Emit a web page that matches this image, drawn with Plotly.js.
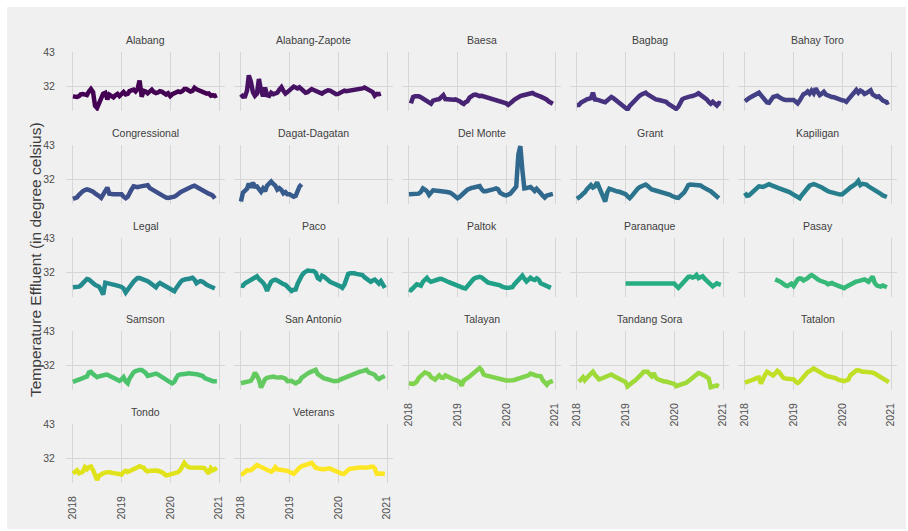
<!DOCTYPE html>
<html>
<head>
<meta charset="utf-8">
<script src="https://cdn.plot.ly/plotly-3.0.1.min.js"></script>
<style>html,body{margin:0;padding:0;background:#fff;}#chart{width:908px;height:531px;}</style>
</head>
<body>
<div id="chart"></div>
<script>
const dates = [
'2018-01-01','2018-01-16','2018-02-01','2018-02-16','2018-03-01','2018-03-16','2018-04-01','2018-04-16','2018-05-01','2018-05-16','2018-06-01','2018-06-16',
'2018-07-01','2018-07-16','2018-08-01','2018-08-16','2018-09-01','2018-09-16','2018-10-01','2018-10-16','2018-11-01','2018-11-16','2018-12-01','2018-12-16',
'2019-01-01','2019-01-16','2019-02-01','2019-02-16','2019-03-01','2019-03-16','2019-04-01','2019-04-16','2019-05-01','2019-05-16','2019-06-01','2019-06-16',
'2019-07-01','2019-07-16','2019-08-01','2019-08-16','2019-09-01','2019-09-16','2019-10-01','2019-10-16','2019-11-01','2019-11-16','2019-12-01','2019-12-16',
'2020-01-01','2020-01-16','2020-02-01','2020-02-16','2020-03-01','2020-03-16','2020-04-01','2020-04-16','2020-05-01','2020-05-16','2020-06-01','2020-06-16',
'2020-07-01','2020-07-16','2020-08-01','2020-08-16','2020-09-01','2020-09-16','2020-10-01','2020-10-16','2020-11-01','2020-11-16','2020-12-01','2020-12-16'];

const stations = ['Alabang','Alabang-Zapote','Baesa','Bagbag','Bahay Toro','Congressional','Dagat-Dagatan','Del Monte','Grant','Kapiligan','Legal','Paco','Paltok','Paranaque','Pasay','Samson','San Antonio','Talayan','Tandang Sora','Tatalon','Tondo','Veterans'];

const alabang = [28.6,28.5,28.4,28.7,29.3,29.4,29.1,29.0,30.2,31.0,30.0,25.5,24.8,26.5,27.5,29.5,29.8,27.6,29.2,28.8,28.3,29.0,29.4,28.7,29.2,30.0,29.2,29.4,30.3,30.6,30.8,30.2,31.0,33.8,28.5,30.4,30.2,29.6,30.2,30.8,30.0,29.7,29.9,30.3,30.1,29.4,29.2,29.6,28.7,29.3,29.7,29.8,30.2,30.0,30.3,31.0,31.0,30.6,30.2,30.4,31.4,30.9,30.6,30.2,30.0,29.8,29.5,29.6,28.8,29.0,28.7,29.0];
const alabangZapote = [29.3,28.5,28.6,30.5,35.5,33.5,30.0,28.8,29.5,34.3,30.5,28.6,31.5,29.0,28.8,29.8,29.3,29.6,29.8,30.8,31.6,30.4,29.5,30.0,30.6,31.3,31.8,31.5,31.2,31.6,30.8,30.3,29.8,30.0,30.4,31.0,30.7,30.4,29.9,29.7,29.5,30.0,30.4,30.6,30.5,30.0,29.8,29.3,29.4,29.8,30.2,30.5,30.3,30.4,30.6,30.7,30.6,30.8,30.7,30.9,31.2,31.5,31.0,30.6,30.2,30.0,28.8,29.4,29.3,29.5,null,null];
const baesa = [null,26.3,28.4,28.6,28.7,28.6,28.3,27.9,27.4,26.9,26.3,26.2,27.2,27.5,27.6,27.7,28.6,29.0,27.7,27.6,27.6,27.6,27.5,27.6,27.4,27.0,26.5,26.1,26.7,27.0,28.2,28.8,29.1,29.2,28.9,28.7,28.8,28.6,28.5,28.3,28.1,28.0,27.9,27.6,27.4,27.2,26.8,26.5,26.3,25.8,26.2,26.9,27.5,28.0,28.4,28.7,28.9,29.0,29.1,29.3,29.5,29.7,29.3,28.9,28.7,28.5,28.2,28.0,27.5,26.9,26.4,26.2];
const bagbag = [25.8,25.8,26.6,26.8,27.2,27.6,27.8,28.0,29.8,27.6,27.5,27.4,27.2,26.9,26.7,27.4,28.0,28.4,28.0,27.5,27.0,26.6,25.8,25.2,24.6,24.3,25.5,26.2,26.9,27.6,28.2,28.8,29.2,29.6,29.8,29.2,28.7,28.2,27.9,27.6,27.5,27.4,27.3,27.1,26.8,26.2,25.8,25.3,24.9,24.5,25.2,26.8,27.6,28.0,28.3,28.5,28.6,28.7,28.8,29.2,29.6,29.2,28.6,28.0,27.6,26.8,26.2,26.8,26.0,25.6,26.4,26.2];
const bahayToro = [27.0,27.3,28.0,28.4,28.7,28.9,29.4,29.8,29.0,28.2,27.2,26.6,26.5,27.4,28.4,28.6,28.8,28.3,27.7,27.6,27.4,27.4,27.5,27.3,27.4,26.9,26.3,27.2,28.4,29.3,29.6,30.2,29.5,30.5,29.6,31.2,30.0,29.0,29.5,30.1,29.2,28.8,28.6,28.4,28.3,28.0,27.8,27.5,27.3,27.2,26.8,27.6,28.4,29.0,29.8,30.7,29.8,30.5,30.1,29.4,29.7,30.2,30.6,29.2,28.8,28.4,28.6,27.8,27.2,27.0,26.5,26.8];
const congressional = [25.5,25.6,26.0,26.8,27.6,28.0,28.4,28.6,28.4,28.2,27.8,27.3,27.0,26.4,25.8,27.0,28.3,29.2,27.2,27.0,27.0,27.0,27.0,26.9,27.0,26.2,25.7,26.2,27.0,28.5,29.6,29.4,29.3,29.5,29.6,29.7,29.8,30.0,29.0,28.6,28.2,27.8,27.4,27.2,26.9,26.5,25.9,25.8,25.9,26.0,26.2,26.6,27.2,27.6,28.0,28.4,28.6,28.8,29.2,29.6,29.8,29.4,28.9,28.6,28.2,27.8,27.6,27.2,26.9,26.5,25.6,null];
const dagatDagatan = [24.6,27.5,28.2,28.8,30.5,29.2,30.8,29.5,29.6,28.4,27.8,28.9,28.0,29.8,30.8,31.2,30.4,29.8,28.5,29.0,28.4,27.3,27.7,27.0,27.0,26.6,26.2,26.5,28.0,29.5,30.3,null,null,null,null,null,null,null,null,null,null,null,null,null,null,null,null,null,null,null,null,null,null,null,null,null,null,null,null,null,null,null,null,null,null,null,null,null,null,null,null,null];
const delMonte = [27.0,27.0,27.0,27.0,27.0,27.2,27.8,28.9,28.5,28.0,26.8,27.4,28.3,28.2,28.2,28.1,28.0,27.9,27.8,27.8,27.6,27.3,26.9,26.3,25.7,26.1,26.6,27.2,27.9,28.5,28.9,29.1,29.2,29.4,29.6,29.7,28.6,28.0,28.0,28.1,28.3,28.5,28.7,28.9,28.6,27.5,27.0,26.8,26.6,26.9,27.2,28.0,28.6,29.5,40.0,42.8,35.0,28.9,29.0,29.3,29.4,28.8,28.1,28.8,28.2,27.3,26.5,25.9,26.6,26.8,27.0,27.1];
const grant = [25.5,25.8,26.5,27.2,27.6,28.6,29.2,30.0,29.2,29.6,30.9,29.5,28.0,26.2,24.6,27.5,28.8,28.6,28.3,28.1,27.9,27.8,27.6,27.3,27.0,26.3,25.7,26.4,27.3,28.0,28.8,29.3,29.6,30.0,30.2,29.7,29.1,28.6,28.4,28.2,28.1,28.0,27.9,27.7,27.4,27.1,26.8,26.4,26.0,25.9,25.8,26.3,27.0,27.6,28.8,30.0,30.2,30.2,30.1,30.2,30.0,29.9,29.4,28.9,28.6,28.3,28.0,27.4,27.0,26.4,25.7,null];
const kapiligan = [27.5,26.5,26.6,27.3,28.0,28.3,29.0,29.6,29.4,29.4,29.7,30.0,30.3,30.0,29.6,29.4,29.2,28.9,28.7,28.5,28.3,28.0,27.7,27.3,26.9,26.3,25.9,25.7,26.6,27.5,28.5,29.2,29.8,30.1,30.3,30.1,29.9,29.6,29.2,28.8,28.2,28.0,27.8,27.6,27.5,27.3,27.1,26.9,27.0,27.4,28.0,28.6,29.2,29.5,30.1,30.6,31.4,30.0,30.4,30.3,30.2,29.6,29.2,28.9,28.6,28.2,27.8,27.1,26.6,26.5,26.1,null];
const legal = [27.0,27.0,27.1,27.2,27.6,28.2,28.9,29.7,29.5,28.8,28.2,27.8,27.5,27.2,26.0,24.6,28.5,28.4,28.0,27.9,27.8,27.7,27.5,27.4,27.1,26.6,25.3,26.2,27.1,28.0,28.8,29.5,30.0,30.0,29.8,29.7,29.4,29.0,28.5,28.0,27.6,27.0,27.9,28.4,28.0,27.6,27.4,27.0,26.8,26.2,25.7,26.8,27.8,28.6,29.3,29.6,29.7,29.7,29.9,30.1,29.5,28.3,28.8,29.0,28.8,28.2,27.8,27.5,27.1,26.9,26.6,null];
const paco = [27.6,27.5,28.3,28.6,29.1,29.5,29.8,30.2,30.6,29.7,29.2,28.5,27.5,25.8,27.5,28.8,29.3,29.5,29.2,28.7,28.3,28.0,27.8,27.0,26.3,25.8,26.2,26.3,28.0,29.6,30.7,31.6,32.3,32.5,32.4,32.3,32.3,31.8,30.0,29.6,30.8,30.5,29.8,29.5,28.8,28.5,28.3,28.0,27.6,27.3,26.8,27.8,29.5,31.4,31.6,31.7,31.6,31.4,31.3,31.1,31.0,30.3,29.8,29.4,28.8,29.2,29.5,28.9,28.2,29.0,28.0,26.8];
const paltok = [26.2,26.0,26.7,27.3,28.0,27.8,27.5,28.8,29.5,30.1,29.2,28.8,29.0,29.3,29.5,29.7,29.8,29.6,29.2,28.9,28.6,28.3,27.9,27.7,27.5,27.2,26.8,26.7,26.6,27.5,28.4,29.2,29.7,30.1,30.3,30.4,30.2,29.6,28.8,28.6,28.4,28.3,28.2,28.1,28.0,27.6,27.2,26.9,26.8,26.8,26.9,27.0,27.9,28.6,29.3,30.0,30.8,29.8,28.9,29.5,30.1,29.6,29.4,29.9,29.4,28.3,28.0,27.8,27.4,27.0,26.8,null];
const paranaque = [null,null,null,null,null,null,null,null,null,null,null,null,null,null,null,null,null,null,null,null,null,null,null,null,28.2,28.2,28.2,28.2,28.2,28.2,28.2,28.2,28.2,28.2,28.2,28.2,28.2,28.2,28.2,28.2,28.2,28.2,28.2,28.2,28.2,28.2,28.2,28.2,28.2,27.5,26.8,27.5,28.3,29.2,29.8,30.4,30.5,30.2,30.4,31.0,30.0,30.3,30.6,29.8,29.2,28.6,28.3,27.3,27.8,28.3,28.0,27.8];
const pasay = [null,null,null,null,null,null,null,null,null,null,null,null,null,null,null,29.6,29.4,29.0,28.6,28.0,27.6,27.4,27.9,28.2,27.4,28.5,29.6,29.9,29.8,29.2,29.5,30.0,30.6,31.0,30.6,30.3,29.6,29.2,28.9,29.0,28.5,28.0,28.2,28.4,28.0,27.7,27.3,27.0,26.8,26.7,27.2,27.6,27.9,28.3,28.7,28.9,29.0,29.1,29.4,29.6,29.2,28.8,29.6,30.5,28.4,27.6,27.4,27.2,27.6,27.2,27.0,null];
const samson = [26.5,26.7,26.8,27.2,27.4,27.7,28.0,28.2,29.6,29.8,29.0,28.4,28.0,28.3,28.6,28.7,28.8,28.8,28.5,28.2,27.8,27.4,27.1,26.8,27.3,28.0,26.6,26.0,27.5,28.7,29.6,30.0,30.3,30.4,30.4,30.0,29.4,28.4,28.6,28.6,28.8,29.2,28.9,28.4,28.1,27.8,27.3,26.8,26.3,26.0,26.5,27.8,28.7,28.9,28.9,29.0,29.1,29.3,29.3,29.3,29.3,29.0,28.8,28.6,28.4,27.7,27.4,27.2,26.9,26.7,26.7,26.7];
const sanAntonio = [26.0,26.2,26.5,26.6,26.7,26.8,27.9,29.5,28.5,27.2,24.6,26.5,27.3,27.8,28.0,28.2,28.2,28.0,27.8,27.9,28.0,27.9,27.5,26.7,26.9,26.8,26.3,26.0,26.4,26.6,27.8,28.4,28.8,29.2,29.6,29.8,30.0,30.4,29.0,28.4,27.8,27.6,27.5,27.2,27.0,26.9,26.7,26.6,26.8,27.2,27.5,27.8,28.2,28.5,28.8,28.9,29.2,29.4,29.7,29.9,30.0,30.2,30.4,29.6,29.3,29.0,28.8,27.8,27.4,27.8,28.2,28.4];
const talayan = [26.0,25.9,25.8,26.1,26.6,27.8,28.4,29.0,29.6,29.3,29.0,28.0,27.6,27.2,28.0,28.6,27.9,27.8,28.6,28.2,28.1,27.5,27.3,27.1,26.8,26.5,25.2,26.9,27.3,27.6,28.2,28.8,29.3,29.8,30.5,31.0,30.3,28.9,28.6,28.4,28.2,28.0,27.8,27.6,27.4,27.3,27.1,27.0,26.9,26.9,26.8,27.0,27.1,27.3,27.4,27.6,27.7,27.9,28.2,28.6,29.2,28.9,28.6,28.5,28.4,28.3,27.0,26.2,25.5,26.3,26.6,26.8];
const tandangSora = [null,26.5,27.5,28.0,27.0,28.0,28.5,29.2,29.8,28.8,27.8,27.3,27.5,27.8,28.0,28.2,28.6,28.9,28.5,28.2,27.6,27.2,26.9,26.7,26.4,25.0,25.7,26.1,26.6,27.0,27.6,28.3,29.0,29.8,29.8,29.8,29.0,28.3,29.3,27.8,27.3,27.0,26.8,26.6,26.6,26.4,26.3,26.2,25.8,25.1,25.3,25.4,25.6,25.9,26.2,26.7,27.2,27.8,28.3,28.9,29.4,29.2,29.0,28.5,28.0,27.6,24.7,24.9,25.0,25.3,25.0,null];
const tatalon = [26.2,26.4,26.7,27.0,27.2,27.4,27.8,27.9,25.9,27.5,28.8,29.8,29.4,28.8,28.6,29.2,30.1,29.6,28.8,27.8,27.6,27.6,27.6,27.5,27.3,26.6,26.1,26.6,27.3,28.2,29.0,29.6,30.0,30.5,30.9,30.5,30.1,29.6,29.0,28.7,28.5,28.3,28.2,28.1,28.0,27.6,27.2,27.0,26.8,26.7,27.0,27.2,28.6,29.2,29.8,30.2,30.3,29.9,29.8,29.8,29.8,29.7,29.6,29.5,29.2,28.8,28.3,27.6,27.2,26.9,26.6,26.4];
const tondo = [26.9,27.5,28.0,27.0,27.2,27.5,29.0,28.3,29.0,29.2,28.0,26.0,24.8,26.2,26.8,27.0,27.2,27.5,27.4,27.2,27.0,26.9,26.8,26.7,26.6,27.4,27.8,27.4,27.6,28.0,28.4,28.6,29.0,29.3,29.0,28.8,28.0,27.6,27.8,27.9,27.9,27.9,27.8,27.6,27.3,26.8,26.3,26.4,26.6,26.7,26.8,27.0,27.4,28.0,29.0,30.4,29.6,29.0,28.9,28.9,28.9,28.9,29.0,28.9,28.8,28.6,27.8,26.9,28.7,28.0,28.3,28.8];
const veterans = [26.7,26.8,27.4,28.0,27.9,28.0,28.5,29.3,29.7,29.4,29.0,28.8,28.5,28.3,27.9,27.5,28.0,29.0,28.3,28.2,28.2,28.2,28.0,27.8,27.4,27.0,26.8,27.5,28.3,28.8,29.3,29.5,29.6,29.9,30.2,30.4,29.6,28.8,28.6,28.3,28.3,28.3,28.3,28.5,28.6,28.2,27.9,27.8,27.4,27.0,26.8,26.9,27.6,28.1,28.5,28.6,28.9,29.0,29.0,28.9,28.9,28.7,28.8,29.0,29.1,29.2,28.6,26.8,26.9,26.9,26.8,26.8];

const series = [alabang, alabangZapote, baesa, bagbag, bahayToro, congressional, dagatDagatan, delMonte, grant, kapiligan, legal, paco, paltok, paranaque, pasay, samson, sanAntonio, talayan, tandangSora, tatalon, tondo, veterans];

const yTickVals = [32, 43];
const xTickVals = ['2018-01-01','2019-01-01','2020-01-01','2021-01-01'];
const xTickText = ['2018','2019','2020','2021'];

// viridis palette stops (style)
const viridisStops = ['#440154','#471365','#482475','#463480','#414487','#3B528B','#355F8D','#2F6C8E','#2A788E','#25848E','#21908C','#1E9C89','#22A884','#2FB47C','#44BF70','#5DC863','#7AD151','#9BD93C','#BDDF26','#DFE318','#FDE725'];
function hex2rgb(h){return [parseInt(h.slice(1,3),16),parseInt(h.slice(3,5),16),parseInt(h.slice(5,7),16)];}
function viridis(t){
  const p = t*(viridisStops.length-1); const i = Math.min(Math.floor(p), viridisStops.length-2); const f = p-i;
  const a = hex2rgb(viridisStops[i]), b = hex2rgb(viridisStops[i+1]);
  return 'rgb('+a.map((v,k)=>Math.round(v+(b[k]-v)*f)).join(',')+')';
}

const W = 908, H = 531;
const traces = [];
const layout = {
  width: W, height: H,
  margin: {l:0, r:0, t:0, b:0},
  paper_bgcolor: '#ffffff',
  plot_bgcolor: 'rgba(0,0,0,0)',
  showlegend: false,
  font: {family: 'Liberation Sans, Arial, sans-serif', color: '#3c3c3c'},
  shapes: [{type:'rect', xref:'paper', yref:'paper', x0: 7/W, x1: 906/W, y0: 1-529/H, y1: 1-7/H, fillcolor:'#f0f0f0', line:{width:0}, layer:'below'}],
  annotations: [{
    text: 'Temperature Effluent (in degree celsius)', xref:'paper', yref:'paper',
    x: 35/W, y: 1-260/H, textangle: -90, showarrow:false, xanchor:'center', yanchor:'middle',
    font: {size: 15.5, color:'#3c3c3c'}
  }]
};

stations.forEach((name, i) => {
  const r = Math.floor(i/5), c = i%5;
  const xk = i===0 ? 'xaxis' : 'xaxis'+(i+1);
  const yk = i===0 ? 'yaxis' : 'yaxis'+(i+1);
  const xs = i===0 ? 'x' : 'x'+(i+1);
  const ys = i===0 ? 'y' : 'y'+(i+1);
  const left = 66 + 168*c, right = left + 159;
  const top = 52 + 93*r, bottom = 111 + 93*r;
  traces.push({
    type:'scatter', mode:'lines', x: dates, y: series[i], xaxis: xs, yaxis: ys,
    line: {color: viridis(i/(stations.length-1)), width: 4.5}, connectgaps:false, hoverinfo:'x+y', name: name
  });
  const showX = (r===4) || (r===3 && c>=2);
  layout[xk] = {
    domain: [left/W, right/W], anchor: ys, type:'date',
    range: ['2017-11-10','2021-02-15'],
    tickvals: xTickVals, ticktext: xTickText, tickangle: -90,
    showticklabels: showX, ticks: 'outside', ticklen: 8, tickcolor: 'rgba(0,0,0,0)',
    tickfont: {size: 10.5, color:'#4d4d4d'},
    showgrid: true, gridcolor: '#d6d6d6', gridwidth: 1, zeroline:false, showline:false, fixedrange:true
  };
  layout[yk] = {
    domain: [1-bottom/H, 1-top/H], anchor: xs,
    range: [23.8, 43.16], tickvals: yTickVals,
    showticklabels: c===0, ticks: 'outside', ticklen: 8, tickcolor: 'rgba(0,0,0,0)',
    tickfont: {size: 10.5, color:'#4d4d4d'},
    showgrid: true, gridcolor: '#d6d6d6', gridwidth: 1, zeroline:false, showline:false, fixedrange:true
  };
  layout.annotations.push({
    text: name, xref:'paper', yref:'paper', x: (left+right)/2/W, y: 1-(top-12)/H,
    xanchor:'center', yanchor:'middle', showarrow:false, font:{size: 10.5, color:'#404040'}
  });
});

Plotly.newPlot('chart', traces, layout, {displayModeBar:false, staticPlot:true});
</script>
</body>
</html>
